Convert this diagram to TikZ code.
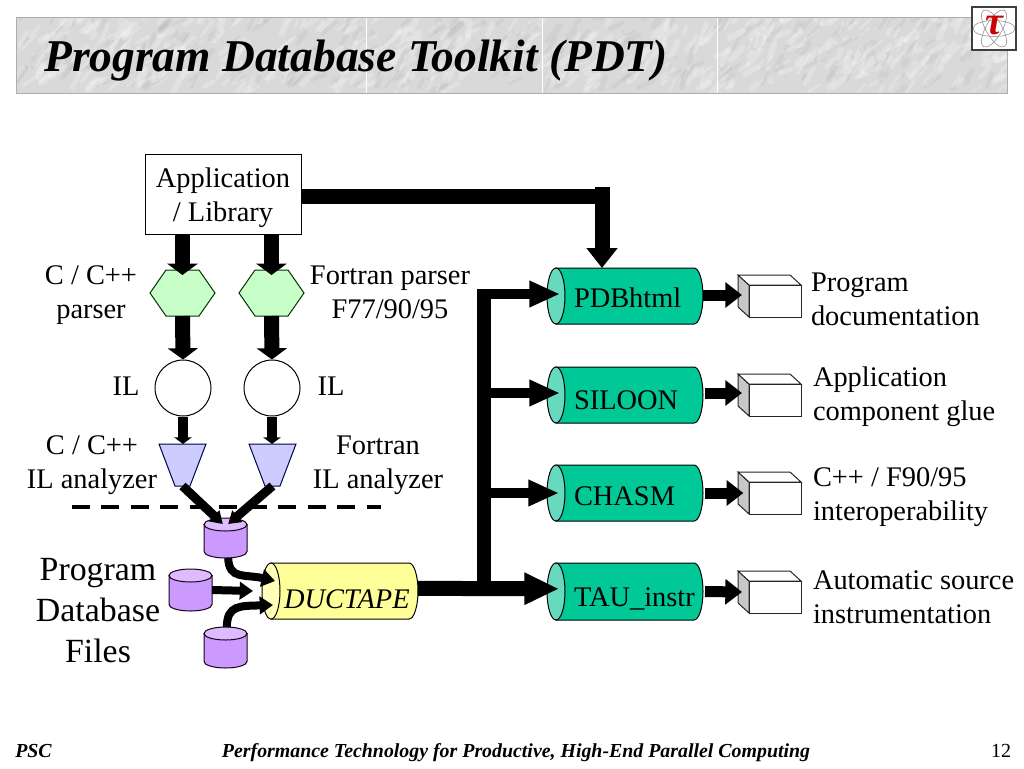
\documentclass[tikz,border=0pt]{standalone}
\usepackage{fontspec}
\setmainfont{Liberation Serif}
\usetikzlibrary{arrows.meta,fit,calc}
\definecolor{tealbody}{HTML}{00C896}
\definecolor{tealend}{HTML}{66D9BF}
\definecolor{ductbody}{HTML}{FFFF99}
\definecolor{ductend}{HTML}{FFFFB8}
\definecolor{dbbody}{HTML}{CC99FF}
\definecolor{dbtop}{HTML}{DDBBFF}
\definecolor{hexfill}{HTML}{C8FFC8}
\definecolor{trapfill}{HTML}{CCCCFF}
\definecolor{edgegray}{HTML}{A9AEB6}
\tikzset{
  bound/.style={inner sep=0pt,outer sep=0pt},
  lbl/.style={inner sep=0pt,outer sep=0pt,font=\fontsize{21.3}{25.5}\selectfont,align=center,anchor=base},
  lbll/.style={lbl,align=left,anchor=base west},
  outl/.style={draw=black,line width=.75pt},
  bigar/.style={line width=11.25pt,-{Triangle[length=8.5pt,width=22.5pt]}},
  midar/.style={line width=7.5pt,-{Triangle[length=5pt,width=13pt]}},
  outar/.style={line width=8.25pt,-{Triangle[length=12.5pt,width=18.5pt]}},
  branchar/.style={line width=7.5pt,-{Triangle[length=23pt,width=18.5pt]}},
  mainar/.style={line width=11.25pt,-{Triangle[length=26pt,width=22.5pt]}},
  topar/.style={line width=11.25pt,-{Triangle[length=15pt,width=22.5pt]}},
  dbar/.style={line width=6pt,-{Triangle[length=10pt,width=13pt]}},
  mergear/.style={line width=6.75pt,-{Triangle[length=9pt,width=11pt]}},
}
\newcommand{\hexn}[5]{\node[bound,fit={(#2,#3)(#4,#5)}] (#1) {};
  \draw[outl,draw=black!80!green,fill=hexfill] (#1.west) -- ([xshift=12pt]#1.north west) -- ([xshift=-12pt]#1.north east) -- (#1.east) -- ([xshift=-12pt]#1.south east) -- ([xshift=12pt]#1.south west) -- cycle;}
\newcommand{\trapn}[5]{\node[bound,fit={(#2,#3)(#4,#5)}] (#1) {};
  \draw[outl,draw=black!70!blue,fill=trapfill] (#1.north west) -- (#1.north east) -- ([xshift=-12pt]#1.south east) -- ([xshift=12pt]#1.south west) -- cycle;}
\newcommand{\cyln}[8]{\node[bound,fit={(#2,#3)(#4,#5)}] (#1) {};
  \pgfmathsetmacro{\ryy}{(#5-#3)/2}
  \filldraw[outl,fill=#7] ({#4-#6},#3) arc[start angle=-90,end angle=90,x radius=#6,y radius=\ryy] -- ({#2+#6},#5) -- ({#2+#6},#3) -- cycle;
  \filldraw[outl,fill=#8] ({#2+#6},{(#3+#5)/2}) ellipse[x radius=#6,y radius=\ryy];}
\newcommand{\dbn}[5]{\node[bound,fit={(#2,#3)(#4,#5)}] (#1) {};
  \pgfmathsetmacro{\rxx}{(#4-#2)/2}
  \filldraw[outl,draw=black!80!violet,fill=dbbody] (#2,{#3+6.5}) -- (#2,{#5-6.5}) arc[start angle=180,end angle=0,x radius=\rxx,y radius=6.5] -- (#4,{#3+6.5}) -- cycle;
  \filldraw[outl,draw=black!80!violet,fill=dbtop] ({#2+\rxx},{#3+6.5}) ellipse[x radius=\rxx,y radius=6.5];}
\newcommand{\boxn}[3]{\node[bound,fit={(#2,#3)({#2+63},{#3+42})}] (#1) {};
  \filldraw[line width=.75pt,draw=black!85,fill=black!22] (#2,#3) -- ({#2+11},{#3+10}) -- ({#2+11},{#3+42}) -- (#2,{#3+32}) -- cycle;
  \filldraw[line width=.75pt,draw=black!85,fill=white] (#2,#3) -- ({#2+52},#3) -- ({#2+63},{#3+10}) -- ({#2+11},{#3+10}) -- cycle;
  \filldraw[line width=.75pt,draw=black!85,fill=white] ({#2+11},{#3+10}) rectangle ({#2+63},{#3+42});}
\begin{document}
\begin{tikzpicture}[x=.75pt,y=-.75pt,line cap=butt]
\useasboundingbox (0,0) rectangle (1024,768);
\fill[white] (0,0) rectangle (1024,768);
% marble title band
\begin{scope}
\clip (16,17) rectangle (1007,93);
\fill[black!15] (16,17) rectangle (1007,93);
\pgfmathsetseed{4711}
\foreach \i in {1,...,700}{
  \pgfmathsetmacro{\xa}{16+rnd*991}
  \pgfmathsetmacro{\ya}{17+rnd*76}
  \pgfmathsetmacro{\dx}{3+rnd*12}
  \pgfmathsetmacro{\dy}{4+rnd*12}
  \pgfmathsetmacro{\wd}{1+rnd*4}
  \pgfmathsetmacro{\shade}{int(mod(\i,3))}
  \ifnum\shade=0
    \draw[black!55,opacity=.07,line width=\wd pt,line cap=round] (\xa,\ya) -- ({\xa+\dx},{\ya-\dy});
  \else
    \draw[white,opacity=.22,line width=\wd pt,line cap=round] (\xa,\ya) -- ({\xa+\dx},{\ya-\dy});
  \fi
}
\foreach \xx in {366,542,717}{\draw[white,line width=.6pt] (\xx,17) -- (\xx,93);}
\end{scope}
\draw[edgegray,line width=.75pt] (16,17) rectangle (1007,93);
\node[inner sep=0pt,anchor=base west,font=\fontsize{34.1}{40}\selectfont\bfseries\itshape] (title) at (44,71) {Program Database Toolkit (PDT)};
% logo
\node[bound,fit={(972,7)(1016,50)}] (logo) {};
\fill[white] (logo.north west) rectangle (logo.south east);
\foreach \rr in {0,60,120}{\draw[black!45,line width=.4pt,rotate around={\rr:(logo.center)}] (logo.center) ellipse[x radius=21,y radius=8];}
\draw[black!75,line width=1.2pt] (logo.north west) rectangle (logo.south east);
\node[inner sep=0pt,text=red!80!black,font=\fontsize{30}{30}\selectfont\bfseries\itshape] (tau) at (994,26) {τ};
% shapes
\node[outl,fill=white,bound,draw=black,fit={(145,154)(301,234)}] (app) {};
\hexn{hexL}{150}{270}{215}{316}
\hexn{hexR}{239}{270}{304}{316}
\node[outl,fill=white,circle,minimum size=42pt,inner sep=0pt] (circL) at (183,388) {};
\node[outl,fill=white,circle,minimum size=42pt,inner sep=0pt] (circR) at (272,388) {};
\trapn{trapL}{159}{444}{206}{486}
\trapn{trapR}{249}{444}{296}{486}
\dbn{dbA}{204}{518}{247}{558}
\dbn{dbB}{169}{569}{212}{611}
\dbn{dbC}{204}{627}{247}{668}
\cyln{duct}{262}{563}{418}{619}{9}{ductbody}{ductend}
\cyln{cylA}{547}{268}{703}{324}{9}{tealbody}{tealend}
\cyln{cylB}{547}{367}{703}{423}{9}{tealbody}{tealend}
\cyln{cylC}{547}{465}{703}{521}{9}{tealbody}{tealend}
\cyln{cylD}{547}{563}{703}{620}{9}{tealbody}{tealend}
\boxn{boxA}{738}{275}
\boxn{boxB}{738}{374}
\boxn{boxC}{738}{472}
\boxn{boxD}{738}{571}
% dashed rule
\coordinate (ruleL) at (72,507);
\coordinate (ruleR) at (381,507);
\draw[line width=3pt,dash pattern=on 13.5pt off 8.6pt] (ruleL) -- (ruleR);
% connectors
\draw[bigar] (app.south -| hexL) -- ([yshift=-3.75pt]hexL.north);
\draw[bigar] (app.south -| hexR) -- ([yshift=-3.75pt]hexR.north);
\draw[bigar] (hexL.south) -- (circL.north);
\draw[bigar] (hexR.south) -- (circR.north);
\draw[midar] (circL.south) -- (circL.south |- trapL.north);
\draw[midar] (circR.south) -- (circR.south |- trapR.north);
\draw[mergear] (trapL.south) -- ([xshift=-2pt,yshift=-4.5pt]dbA.north);
\draw[mergear] (trapR.south) -- ([xshift=2pt,yshift=-4.5pt]dbA.north);
\draw[dbar] ([xshift=2pt]dbA.south) .. controls (229,580) and (245,574) .. ([xshift=9.75pt,yshift=7.5pt]duct.west);
\draw[dbar] (dbB.east) -- ([xshift=-6.75pt]duct.west);
\draw[dbar] ([xshift=1pt]dbC.north) .. controls (227,605) and (240,606) .. ([xshift=8.25pt,yshift=-10.5pt]duct.west);
\coordinate (elbow) at (602,196);
\draw[line width=11.25pt] (app.east |- elbow) -- ([xshift=5.6pt]elbow);
\draw[topar] ([yshift=6.5pt]elbow) -- (cylA.north -| elbow);
\coordinate (busTop) at (484,289);
\draw[line width=10.5pt] (busTop) -- (484,596);
\draw[branchar] (484,294) -- ([xshift=9.75pt,yshift=1.5pt]cylA.west);
\draw[branchar] (484,393) -- ([xshift=9.75pt,yshift=1.5pt]cylB.west);
\draw[branchar] (484,493) -- ([xshift=9pt]cylC.west);
\draw[mainar] ([yshift=2pt]duct.east) -- ([xshift=9pt,yshift=2pt]cylD.west);
\draw[outar] ([yshift=.75pt]cylA.east) -- ([xshift=3pt,yshift=.75pt]boxA.west);
\draw[outar] ([xshift=1.5pt,yshift=1.5pt]cylB.east) -- ([xshift=3pt,yshift=1.5pt]boxB.west);
\draw[outar] ([xshift=1.5pt]cylC.east) -- ([xshift=4pt]boxC.west);
\draw[outar] ([xshift=1.5pt]cylD.east) -- ([xshift=3pt]boxD.west);
% labels
\node[lbl] (tApp) at (223,221) {Application\\/ Library};
\node[lbl] (tCp) at (91,318) {C / C++\\parser};
\node[lbl] (tFp) at (390,318) {Fortran parser\\F77/90/95};
\node[lbl] (tIL1) at (126,395) {IL};
\node[lbl] (tIL2) at (331,395) {IL};
\node[lbl] (tCa) at (92,488) {C / C++\\IL analyzer};
\node[lbl] (tFa) at (378,488) {Fortran\\IL analyzer};
\node[lbl,font=\fontsize{25.4}{30.75}\selectfont] (tDb) at (98,662) {Program\\Database\\Files};
\node[lbl,anchor=base west,font=\fontsize{21.3}{25.5}\selectfont\itshape] (tDuct) at (284,608) {DUCTAPE};
\node[lbl,anchor=base west] (tA) at (574,307) {PDBhtml};
\node[lbl,anchor=base west] (tB) at (574,409) {SILOON};
\node[lbl,anchor=base west] (tC) at (574,505) {CHASM};
\node[lbl,anchor=base west] (tD) at (574,606) {TAU\_instr};
\node[lbll] (oA) at (811,325) {Program\\documentation};
\node[lbll] (oB) at (813,420) {Application\\component glue};
\node[lbll] (oC) at (813,520) {C++ / F90/95\\interoperability};
\node[lbll] (oD) at (813,623) {Automatic source\\instrumentation};
\node[inner sep=0pt,anchor=base west,font=\fontsize{14.9}{16}\selectfont\bfseries\itshape] (fL) at (15,757) {PSC};
\node[inner sep=0pt,anchor=base,font=\fontsize{14.9}{16}\selectfont\bfseries\itshape] (fM) at (516,757) {Performance Technology for Productive, High-End Parallel Computing};
\node[inner sep=0pt,anchor=base,font=\fontsize{15}{16}\selectfont] (fR) at (1001,757) {12};
\end{tikzpicture}
\end{document}
